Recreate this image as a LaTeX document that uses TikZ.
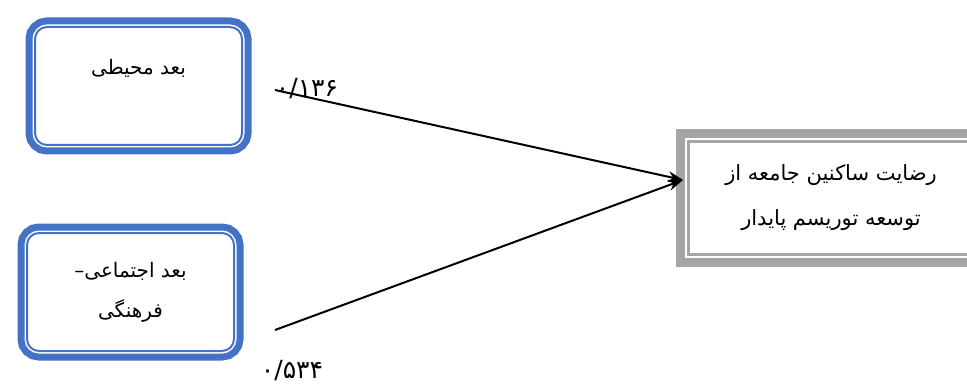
\documentclass[tikz,border=0pt]{standalone}
\usepackage{fontspec}
\newfontfamily\arabicfont[Script=Arabic]{DejaVu Sans}
\TeXXeTstate=1
\usetikzlibrary{arrows.meta}
\definecolor{boxblue}{HTML}{4472C4}
\definecolor{boxgray}{HTML}{A5A5A5}
\tikzset{
  dimbox/.style={draw=boxblue, line width=2pt, fill=white, rounded corners=12pt,
    preaction={draw=boxblue, line width=19pt},
    preaction={draw=white, line width=5pt},
    inner sep=0pt, minimum width=207pt, minimum height=118pt, align=center,
    font=\arabicfont\fontsize{20}{40}\selectfont},
  toptext/.style={text height=48pt, text depth=70pt},
  satbox/.style={draw=boxgray, line width=2.5pt, fill=white,
    preaction={draw=boxgray, line width=25pt},
    preaction={draw=white, line width=7pt},
    inner sep=0pt, minimum width=285pt, minimum height=113pt, align=center,
    font=\arabicfont\fontsize{21}{45}\selectfont},
  link/.style={line width=2pt, -{Stealth[length=15pt, width=11pt]}},
  coef/.style={inner sep=0pt, font=\arabicfont\fontsize{25}{25}\selectfont}
}
\begin{document}
\begin{tikzpicture}[x=1pt,y=-1pt]
    \clip (0,0) rectangle (967,385);

    \node[dimbox, toptext] (env) at (138.5,86) {\beginR بعد محیطی\endR};
    \node[dimbox] (soc) at (130.5,292) {\beginR بعد اجتماعی–\endR\\\beginR فرهنگی\endR};
    \node[satbox] (sat) at (831,198) {\beginR رضایت ساکنین جامعه از\endR\\\beginR توسعه توریسم پایدار\endR};

    \coordinate (e1) at (275,90);
    \coordinate (e2) at (275,330);
    \coordinate (tip) at (683,180);

    \draw[link] (e1) -- (tip);
    \draw[link] (e2) -- (tip);

    \node[coef] (c1) at (307,89) {۰/۱۳۶};
    \node[coef] (c2) at (292,371) {۰/۵۳۴};
\end{tikzpicture}
\end{document}
